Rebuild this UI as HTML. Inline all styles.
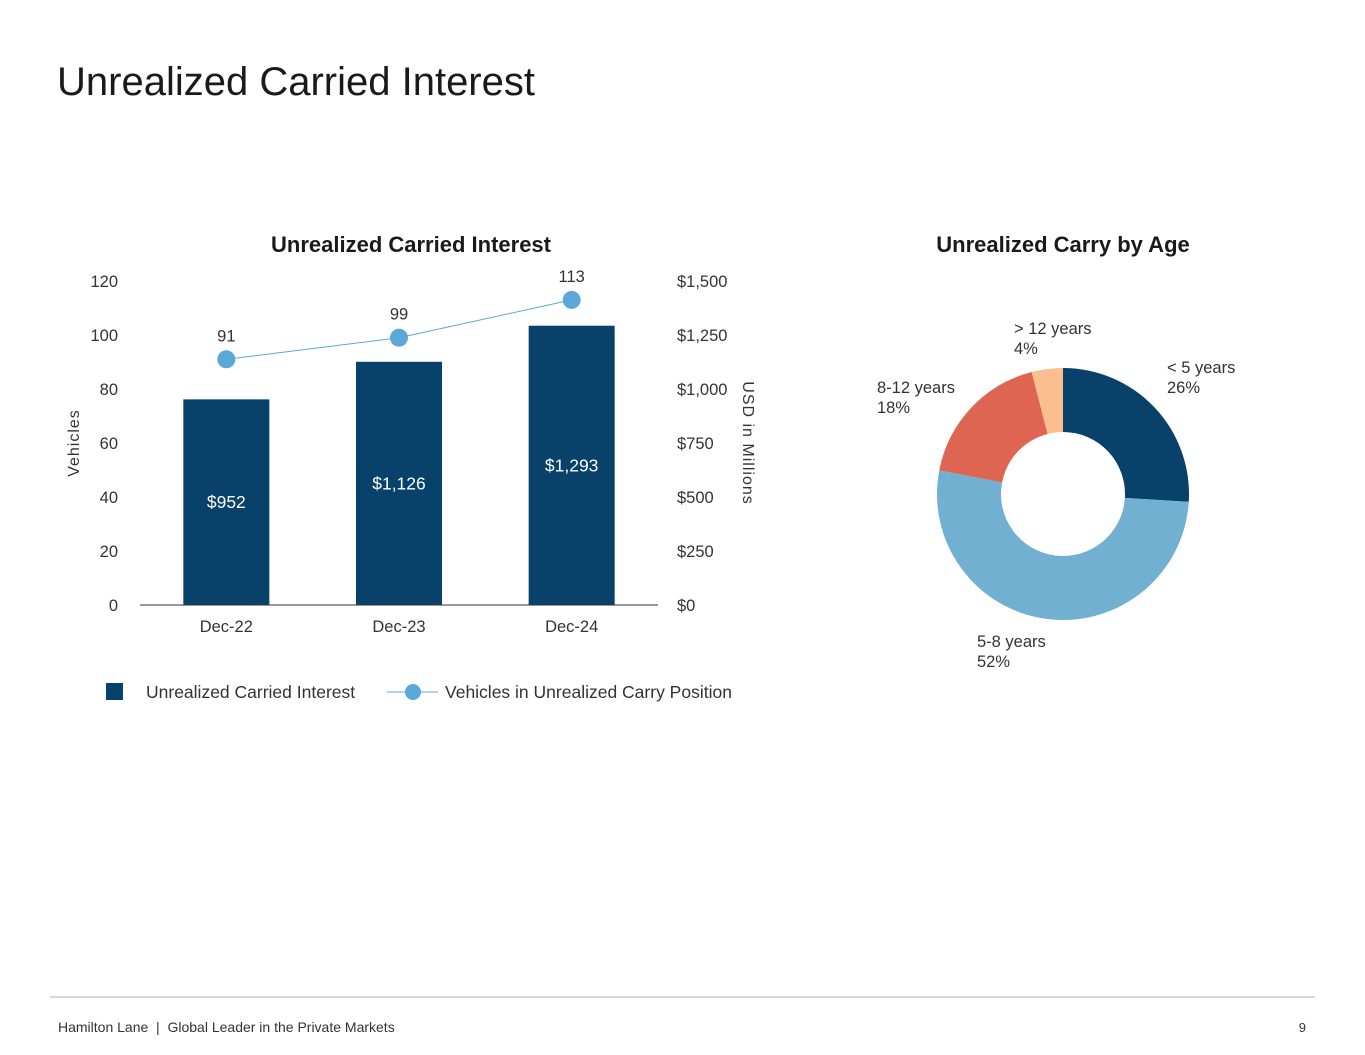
<!DOCTYPE html>
<html><head><meta charset="utf-8">
<style>
body{margin:0;width:1365px;height:1055px;background:#fff;font-family:"Liberation Sans",sans-serif;color:#1a1a1a;position:relative;overflow:hidden}
svg{position:absolute;left:0;top:0}
</style></head>
<body>
<svg width="1365" height="1055">
<text x="57" y="95" font-size="40" fill="#1a1a1a">Unrealized Carried Interest</text>
<text x="411" y="252" font-size="22" font-weight="bold" text-anchor="middle" fill="#1a1a1a">Unrealized Carried Interest</text>
<text x="1063" y="252" font-size="22" font-weight="bold" text-anchor="middle" fill="#1a1a1a">Unrealized Carry by Age</text>
<g id="bar"></g>
<g id="donut"></g>
<rect x="106" y="683" width="17" height="17" fill="#08416a"/>
<text x="146" y="698" font-size="17.5" fill="#333">Unrealized Carried Interest</text>
<line x1="387" y1="692" x2="438" y2="692" stroke="#5ba8d8" stroke-width="1"/>
<circle cx="413" cy="692" r="8" fill="#5ba8d8"/>
<text x="445" y="698" font-size="17.5" fill="#333">Vehicles in Unrealized Carry Position</text>
<line x1="50" y1="997" x2="1315" y2="997" stroke="#c8c8c8" stroke-width="1.5"/>
<text x="58" y="1032" font-size="14" fill="#333" xml:space="preserve">Hamilton Lane  |  Global Leader in the Private Markets</text>
<text x="1306" y="1032" font-size="13" fill="#333" text-anchor="end">9</text>
</svg>
<script>
const categories=["Dec-22","Dec-23","Dec-24"];
const carryValues=[952,1126,1293];
const carryLabels=["$952","$1,126","$1,293"];
const vehicleValues=[91,99,113];
const leftTicks=[0,20,40,60,80,100,120];
const rightTicks=["$0","$250","$500","$750","$1,000","$1,250","$1,500"];
const ageLabels=["< 5 years","5-8 years","8-12 years","> 12 years"];
const agePcts=[26,52,18,4];

const NS="http://www.w3.org/2000/svg";
function mk(p,t,a,txt){const e=document.createElementNS(NS,t);for(const k in a)e.setAttribute(k,a[k]);if(txt!==undefined)e.textContent=txt;p.appendChild(e);return e;}
const g=document.getElementById('bar');
const x0=140,x1=658,y0=605,y1=281;
const band=(x1-x0)/categories.length;
const xc=i=>x0+band*(i+0.5);
const yL=v=>y0-(v/120)*(y0-y1);
const yR=v=>y0-(v/1500)*(y0-y1);
leftTicks.forEach(t=>{const e=mk(g,'text',{x:118,y:yL(t)+6,'font-size':16.5,'text-anchor':'end',fill:'#333'},t);

});
rightTicks.forEach((t,i)=>{const e=mk(g,'text',{x:677,y:yR(i*250)+6,'font-size':16.5,fill:'#333'},t);

});
let e=mk(g,'text',{x:0,y:0,'font-size':16,fill:'#333','text-anchor':'middle',transform:'translate(79,443) rotate(-90)','letter-spacing':'1'},'Vehicles');


e=mk(g,'text',{x:0,y:0,'font-size':16,fill:'#333','text-anchor':'middle',transform:'translate(743,443) rotate(90)','letter-spacing':'1'},'USD in Millions');


categories.forEach((c,i)=>{
 const top=yR(carryValues[i]);
 const r=mk(g,'rect',{x:xc(i)-43,y:top,width:86,height:y0-top,fill:'#08416a'});
 
 
 const l=mk(g,'text',{x:xc(i),y:(top+y0)/2+6,'font-size':17.5,fill:'#fff','text-anchor':'middle'},carryLabels[i]);
 
 
 const t=mk(g,'text',{x:xc(i),y:632,'font-size':16.5,fill:'#333','text-anchor':'middle'},c);
 
 
});
e=mk(g,'line',{x1:x0,y1:y0,x2:x1,y2:y0,stroke:'#333','stroke-width':1});


e=mk(g,'polyline',{points:vehicleValues.map((v,i)=>xc(i)+','+yL(v)).join(' '),fill:'none',stroke:'#5ba8d8','stroke-width':1});


vehicleValues.forEach((v,i)=>{
 const c=mk(g,'circle',{cx:xc(i),cy:yL(v),r:9,fill:'#5ba8d8'});
 
 
 const l=mk(g,'text',{x:xc(i),y:yL(v)-18,'font-size':16.5,fill:'#333','text-anchor':'middle'},v);
 
 
});
// donut
const d=document.getElementById('donut');
const cx=1063,cy=494,R=126,r0=62;
const colors=['#08416a','#71b0d0','#de6551','#fbbf8f'];
const labelPos=[[1167,373],[977,647],[877,393],[1014,334]];
const tot=agePcts.reduce((a,b)=>a+b,0);
let acc=0;
const pt=(a,rad)=>[cx+rad*Math.sin(a),cy-rad*Math.cos(a)];
agePcts.forEach((p,i)=>{
 const a0=acc/tot*2*Math.PI;acc+=p;const a1=acc/tot*2*Math.PI;
 const lg=(a1-a0)>Math.PI?1:0;
 const [ax,ay]=pt(a0,R),[bx,by]=pt(a1,R),[ix,iy]=pt(a1,r0),[jx,jy]=pt(a0,r0);
 const s=mk(d,'path',{d:`M${ax},${ay}A${R},${R} 0 ${lg} 1 ${bx},${by}L${ix},${iy}A${r0},${r0} 0 ${lg} 0 ${jx},${jy}Z`,fill:colors[i]});
 
 
 const t=mk(d,'text',{x:labelPos[i][0],y:labelPos[i][1],'font-size':16.5,fill:'#333'});
 
 
 mk(t,'tspan',{x:labelPos[i][0],dy:0},ageLabels[i]);
 mk(t,'tspan',{x:labelPos[i][0],dy:20},p+'%');
});
</script>
</body></html>
